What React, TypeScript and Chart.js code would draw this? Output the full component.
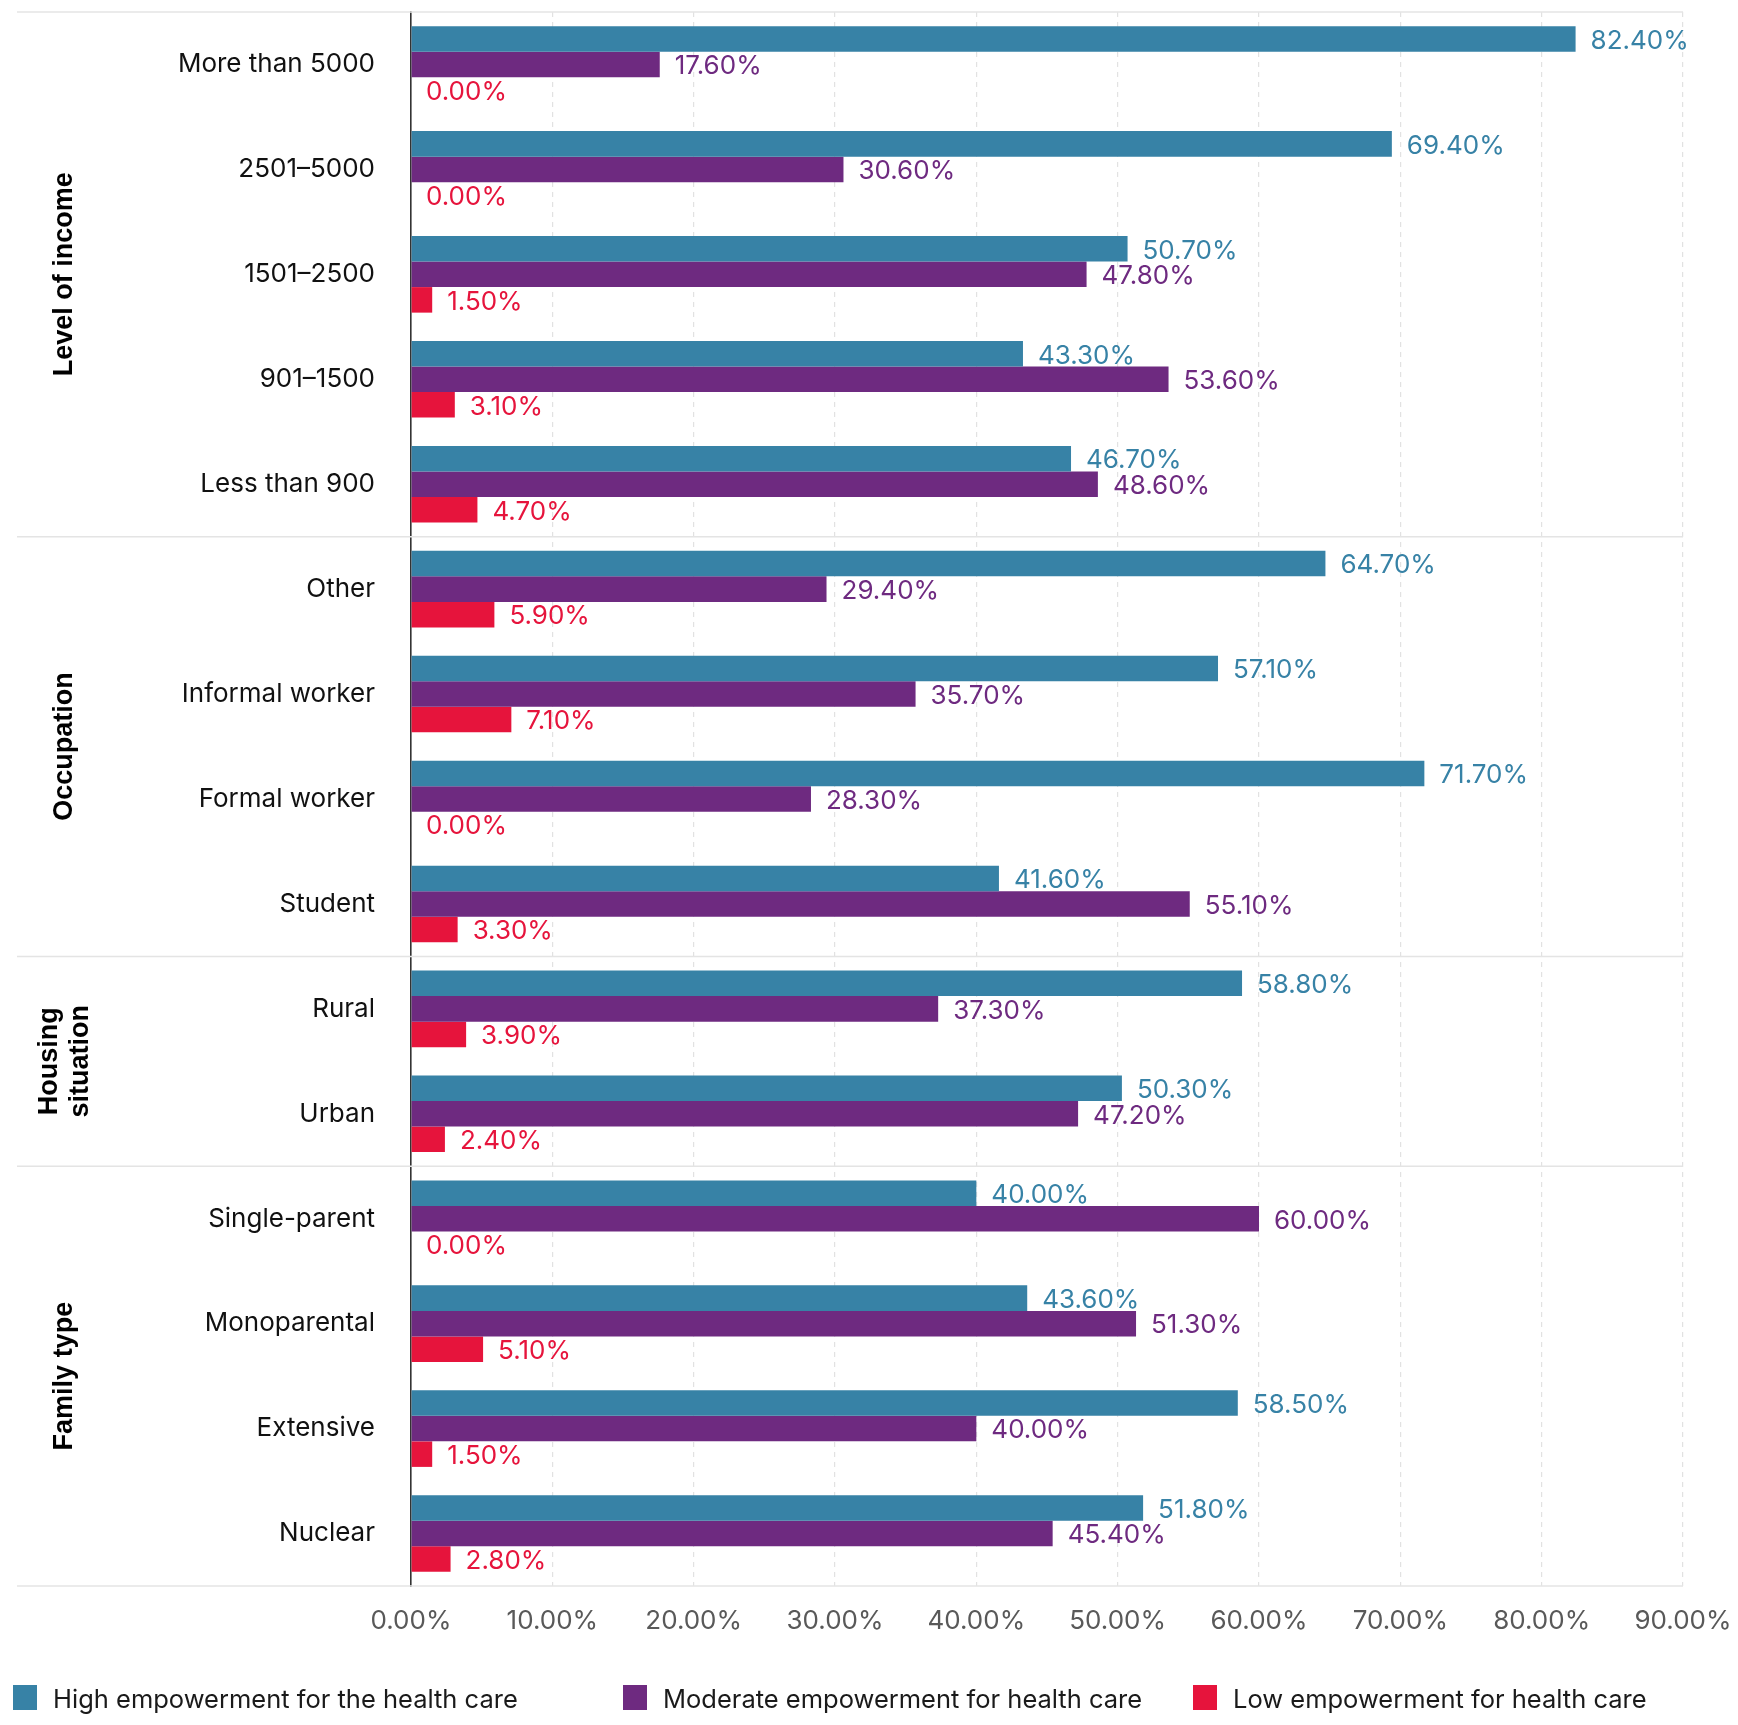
import React, { useEffect, useRef } from 'react';
import { Chart, ChartConfiguration, Plugin, registerables } from 'chart.js';

Chart.register(...registerables);

const categories = [
  'More than 5000',
  '2501–5000',
  '1501–2500',
  '901–1500',
  'Less than 900',
  'Other',
  'Informal worker',
  'Formal worker',
  'Student',
  'Rural',
  'Urban',
  'Single-parent',
  'Monoparental',
  'Extensive',
  'Nuclear',
];

const highValues = [82.4, 69.4, 50.7, 43.3, 46.7, 64.7, 57.1, 71.7, 41.6, 58.8, 50.3, 40.0, 43.6, 58.5, 51.8];
const moderateValues = [17.6, 30.6, 47.8, 53.6, 48.6, 29.4, 35.7, 28.3, 55.1, 37.3, 47.2, 60.0, 51.3, 40.0, 45.4];
const lowValues = [0, 0, 1.5, 3.1, 4.7, 5.9, 7.1, 0, 3.3, 3.9, 2.4, 0, 5.1, 1.5, 2.8];

const seriesNames = [
  'High empowerment for the health care',
  'Moderate empowerment for health care',
  'Low empowerment for health care',
];
const seriesColors = ['#3782A6', '#6E2A80', '#E6143C'];

const groupTitles = [['Level of income'], ['Occupation'], ['Housing', 'situation'], ['Family type']];
const groupSizes = [5, 4, 2, 4];

const FONT = 'Inter';

// separators + rotated group titles in the left margin
const groupPlugin: Plugin<'bar'> = {
  id: 'groups',
  beforeDatasetsDraw(chart) {
    const { ctx, chartArea } = chart;
    const y = chart.scales.y;
    const half = (y.getPixelForValue(1) - y.getPixelForValue(0)) / 2;
    const edges = [chartArea.top];
    let count = 0;
    groupSizes.forEach((n) => {
      count += n;
      edges.push(y.getPixelForValue(count - 1) + half);
    });

    ctx.save();
    ctx.strokeStyle = '#e4e4e4';
    ctx.lineWidth = 1.5;
    edges.forEach((py) => {
      ctx.beginPath();
      ctx.moveTo(17, py);
      ctx.lineTo(chartArea.right, py);
      ctx.stroke();
    });

    ctx.fillStyle = '#000';
    ctx.font = 'bold 27px "Liberation Sans", Arial, sans-serif';
    ctx.textAlign = 'center';
    ctx.textBaseline = 'middle';
    groupTitles.forEach((lines, i) => {
      const cy = (edges[i] + edges[i + 1]) / 2;
      ctx.save();
      ctx.translate(65, cy);
      ctx.rotate(-Math.PI / 2);
      lines.forEach((line, j) => {
        ctx.fillText(line, 0, (j - (lines.length - 1) / 2) * 31);
      });
      ctx.restore();
    });
    ctx.restore();
  },
};

// value labels at the end of each bar
const valueLabelPlugin: Plugin<'bar'> = {
  id: 'valueLabels',
  afterDatasetsDraw(chart) {
    const { ctx } = chart;
    ctx.save();
    ctx.font = `26px ${FONT}`;
    ctx.textAlign = 'left';
    ctx.textBaseline = 'middle';
    chart.data.datasets.forEach((ds, i) => {
      const meta = chart.getDatasetMeta(i);
      ctx.fillStyle = seriesColors[i];
      meta.data.forEach((bar: any, j) => {
        const v = ds.data[j] as number;
        ctx.fillText(v.toFixed(2) + '%', bar.x + 15, bar.y + 2);
      });
    });
    ctx.restore();
  },
};

// legend along the bottom
const legendPlugin: Plugin<'bar'> = {
  id: 'bottomLegend',
  afterDraw(chart) {
    const { ctx, height } = chart;
    const starts = [13, 623, 1193];
    const cy = height - 27;
    ctx.save();
    ctx.font = `25.5px ${FONT}`;
    ctx.textAlign = 'left';
    ctx.textBaseline = 'middle';
    seriesNames.forEach((name, i) => {
      ctx.fillStyle = seriesColors[i];
      ctx.fillRect(starts[i], cy - 13, 24, 25);
      ctx.fillStyle = '#1a1a1a';
      ctx.fillText(name, starts[i] + 40, cy + 2);
    });
    ctx.restore();
  },
};

const App: React.FC = () => {
  const canvasRef = useRef<HTMLCanvasElement>(null);
  const chartRef = useRef<Chart | null>(null);

  useEffect(() => {
    if (!canvasRef.current) return;
    if (chartRef.current) chartRef.current.destroy();

    const seriesValues = [highValues, moderateValues, lowValues];

    const config: ChartConfiguration<'bar'> = {
      type: 'bar',
      data: {
        labels: categories,
        datasets: seriesNames.map((name, i) => ({
          label: name,
          data: seriesValues[i],
          backgroundColor: seriesColors[i],
          borderWidth: 0,
          categoryPercentage: 0.73,
          barPercentage: 1,
        })),
      },
      options: {
        indexAxis: 'y',
        responsive: true,
        maintainAspectRatio: false,
        animation: false,
        layout: { padding: { top: 12, right: 55, left: 0, bottom: 0 } },
        plugins: {
          legend: { display: false },
          tooltip: { enabled: false },
          title: { display: false },
        },
        scales: {
          x: {
            min: 0,
            max: 90,
            afterFit: (scale: any) => {
              scale.height = 139;
              scale.paddingLeft = 0;
              scale.paddingRight = 0;
            },
            ticks: {
              stepSize: 10,
              padding: 20,
              color: '#595959',
              font: { family: FONT, size: 26 },
              callback: (v) => Number(v).toFixed(2) + '%',
            },
            grid: {
              color: '#e2e2e2',
              lineWidth: 1.2,
              drawTicks: false,
            },
            border: { display: false, dash: [5, 5] },
          },
          y: {
            afterFit: (scale: any) => {
              scale.width = 411;
              scale.paddingTop = 0;
              scale.paddingBottom = 0;
            },
            ticks: {
              autoSkip: false,
              padding: 36,
              color: '#111',
              font: { family: FONT, size: 26 },
            },
            grid: { display: false, drawTicks: false },
            border: { display: true, color: '#333', width: 1.6 },
          },
        },
      },
      plugins: [groupPlugin, valueLabelPlugin, legendPlugin],
    };

    chartRef.current = new Chart(canvasRef.current, config);

    return () => {
      if (chartRef.current) {
        chartRef.current.destroy();
        chartRef.current = null;
      }
    };
  }, []);

  return (
    <div style={{ position: 'absolute', left: 0, top: 0, width: 1738, height: 1725, background: '#fff' }}>
      <canvas ref={canvasRef} aria-label="Health care empowerment chart" />
    </div>
  );
};

export default App;
